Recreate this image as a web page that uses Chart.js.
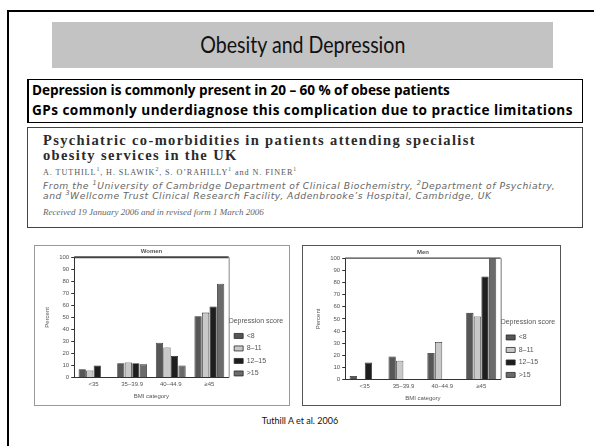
<!DOCTYPE html>
<html>
<head>
<meta charset="utf-8">
<script src="https://cdn.jsdelivr.net/npm/chart.js@4.4.1/dist/chart.umd.min.js"></script>
<style>
  html, body { margin: 0; padding: 0; background: #fff; }
  body { width: 594px; height: 446px; position: relative; overflow: hidden; font-family: Lato, "Open Sans", sans-serif; }
  .frame { position: absolute; left: 7px; top: 10px; width: 620px; height: 470px; border: 2px solid #000; box-sizing: border-box; }
  .title { position: absolute; left: 52px; top: 22px; width: 501px; height: 46px; background: #c3c3c3;
           line-height: 46px; text-align: center; color: #111; }
  .title span { display: inline-block; font-size: 22.5px; transform: scaleX(0.87); }
  .keypoints { position: absolute; left: 27px; top: 79px; width: 556px; height: 44px; border: 1.5px solid #000; border-left-width: 2px;
               box-sizing: border-box; font-family: "Open Sans", sans-serif; font-weight: bold; font-size: 13.6px; color: #000; padding-left: 3px; }
  .keypoints div { height: 19.5px; line-height: 20px; white-space: nowrap; }
  .paper { position: absolute; left: 27px; top: 127px; width: 556px; height: 101px; border: 1px solid #444; box-sizing: border-box;
           font-family: "Liberation Serif", serif; }
  .paper div { position: absolute; left: 15px; white-space: nowrap; }
  .paper .ptitle { font-weight: bold; font-size: 14.5px; line-height: 15px; letter-spacing: 1.35px; color: #2a2a2a; }
  .paper .authors { font-size: 8.2px; line-height: 10px; letter-spacing: 0.9px; color: #555; }
  .paper .affil { font-family: "DejaVu Sans", sans-serif; font-size: 9.2px; font-style: italic; line-height: 10px; letter-spacing: 0.55px; color: #666; }
  .paper .received { font-size: 9px; font-style: italic; line-height: 10px; color: #666; }
  .paper sup { font-size: 70%; line-height: 0; }
  .box { position: absolute; top: 245px; height: 161px; box-sizing: border-box; }
  #womenBox { left: 34px; width: 256px; border: 1px solid #999; }
  #menBox { left: 302px; width: 259px; border: 1px solid #555; }
  .box canvas { position: absolute; left: 0; top: 0; filter: blur(0.35px); }
  .cite { position: absolute; left: 0; width: 600px; top: 415px; text-align: center; font-size: 9px; color: #111; }
</style>
</head>
<body>
<div class="frame"></div>
<div class="title"><span>Obesity and Depression</span></div>
<div class="keypoints">
  <div style="letter-spacing:-0.08px">Depression is commonly present in 20 – 60 % of obese patients</div>
  <div style="letter-spacing:0.44px">GPs commonly underdiagnose this complication due to practice limitations</div>
</div>
<div class="paper">
  <div class="ptitle" style="top:5px">Psychiatric co-morbidities in patients attending specialist</div>
  <div class="ptitle" style="top:20px">obesity services in the UK</div>
  <div class="authors" style="top:40px">A. TUTHILL<sup>1</sup>, H. SLAWIK<sup>2</sup>, S. O’RAHILLY<sup>1</sup> and N. FINER<sup>1</sup></div>
  <div class="affil" style="top:53px">From the <sup>1</sup>University of Cambridge Department of Clinical Biochemistry, <sup>2</sup>Department of Psychiatry,</div>
  <div class="affil" style="top:63px">and <sup>3</sup>Wellcome Trust Clinical Research Facility, Addenbrooke’s Hospital, Cambridge, UK</div>
  <div class="received" style="top:79px">Received 19 January 2006 and in revised form 1 March 2006</div>
</div>
<div class="box" id="womenBox"><canvas id="women" width="254" height="159"></canvas></div>
<div class="box" id="menBox"><canvas id="men" width="257" height="159"></canvas></div>
<div class="cite">Tuthill A et al. 2006</div>

<script>
// BMI groups and depression score bands
const bmiCategories = ['<35', '35–39.9', '40–44.9', '≥45'];
const scoreBands = ['<8', '8–11', '12–15', '>15'];
const bandColors = ['#565656', '#c9c9c9', '#1e1e1e', '#6b6b6b'];

// percent of patients in each band, per BMI group
const womenLt8 = [7, 12, 29, 51];
const women8to11 = [6, 12.5, 25, 54];
const women12to15 = [10, 12, 18, 59];
const womenGt15 = [null, 11, 10, 78];

const menLt8 = [3, 19, 22, 55];
const men8to11 = [null, 15.5, 31, 52];
const men12to15 = [14, null, null, 85];
const menGt15 = [null, null, null, 100];

const yTicks = { min: 0, max: 100, step: 10 };

const axisFont = { family: 'Liberation Sans, Arial, sans-serif', size: 6 };
const legendFont = { family: 'Liberation Sans, Arial, sans-serif', size: 7 };

// legend column gets clipped to its items, so give the labels room
// for the "Depression score" heading
function paddedLabels(chart) {
  const items = Chart.defaults.plugins.legend.labels.generateLabels(chart);
  items.forEach(it => { it.text = it.text.padEnd(8, '\u2007'); });
  return items;
}

// top and right edges of the plot box
const plotFrame = {
  id: 'plotFrame',
  afterDatasetsDraw(chart, args, opts) {
    const { ctx, chartArea: a } = chart;
    ctx.save();
    ctx.strokeStyle = opts.topColor;
    ctx.lineWidth = opts.topWidth;
    ctx.beginPath();
    ctx.moveTo(a.left, a.top);
    ctx.lineTo(a.right, a.top);
    ctx.stroke();
    ctx.strokeStyle = opts.sideColor;
    ctx.lineWidth = 1;
    ctx.beginPath();
    ctx.moveTo(a.right + 0.5, a.top);
    ctx.lineTo(a.right + 0.5, a.bottom);
    ctx.stroke();
    ctx.restore();
  }
};

function makeChart(id, heading, series, pad, frame) {
  new Chart(document.getElementById(id), {
    type: 'bar',
    data: {
      labels: bmiCategories,
      datasets: series.map((vals, i) => ({
        label: scoreBands[i],
        data: vals,
        backgroundColor: bandColors[i],
        borderColor: '#2a2a2a',
        borderWidth: 0.8,
        categoryPercentage: 0.78,
        barPercentage: 0.96
      }))
    },
    options: {
      responsive: false,
      animation: false,
      layout: { padding: pad },
      plugins: {
        title: {
          display: true, text: heading, fullSize: false,
          color: '#555', font: axisFont, padding: { top: 1, bottom: 2 }
        },
        legend: {
          position: 'right',
          title: {
            display: true, text: 'Depression score', color: '#555', position: 'start',
            font: legendFont, padding: { top: 53, bottom: 1 }
          },
          labels: {
            color: '#555', font: legendFont,
            boxWidth: 9, boxHeight: 5, padding: 5.5,
            generateLabels: paddedLabels
          }
        },
        tooltip: { enabled: false },
        plotFrame: frame
      },
      scales: {
        x: {
          grid: { display: false, drawTicks: false },
          border: { color: '#333', width: 1 },
          ticks: { color: '#555', font: axisFont, padding: 3 },
          title: { display: true, text: 'BMI category', color: '#555', font: axisFont, padding: { top: 2, bottom: 0 } }
        },
        y: {
          min: yTicks.min, max: yTicks.max,
          ticks: { stepSize: yTicks.step, color: '#555', font: axisFont, padding: 2 },
          grid: { drawOnChartArea: false, tickLength: 3, color: '#333' },
          border: { color: '#333', width: 1 },
          title: { display: true, text: 'Percent', color: '#555', font: axisFont, padding: { top: 0, bottom: 6 } }
        }
      }
    },
    plugins: [plotFrame]
  });
}

makeChart('women', 'Women', [womenLt8, women8to11, women12to15, womenGt15],
  { left: 9, right: 1, top: 1, bottom: 5 },
  { topColor: '#444', topWidth: 2, sideColor: '#888' });

makeChart('men', 'Men', [menLt8, men8to11, men12to15, menGt15],
  { left: 12, right: 0, top: 2, bottom: 3 },
  { topColor: '#444', topWidth: 1.2, sideColor: '#777' });
</script>
</body>
</html>
